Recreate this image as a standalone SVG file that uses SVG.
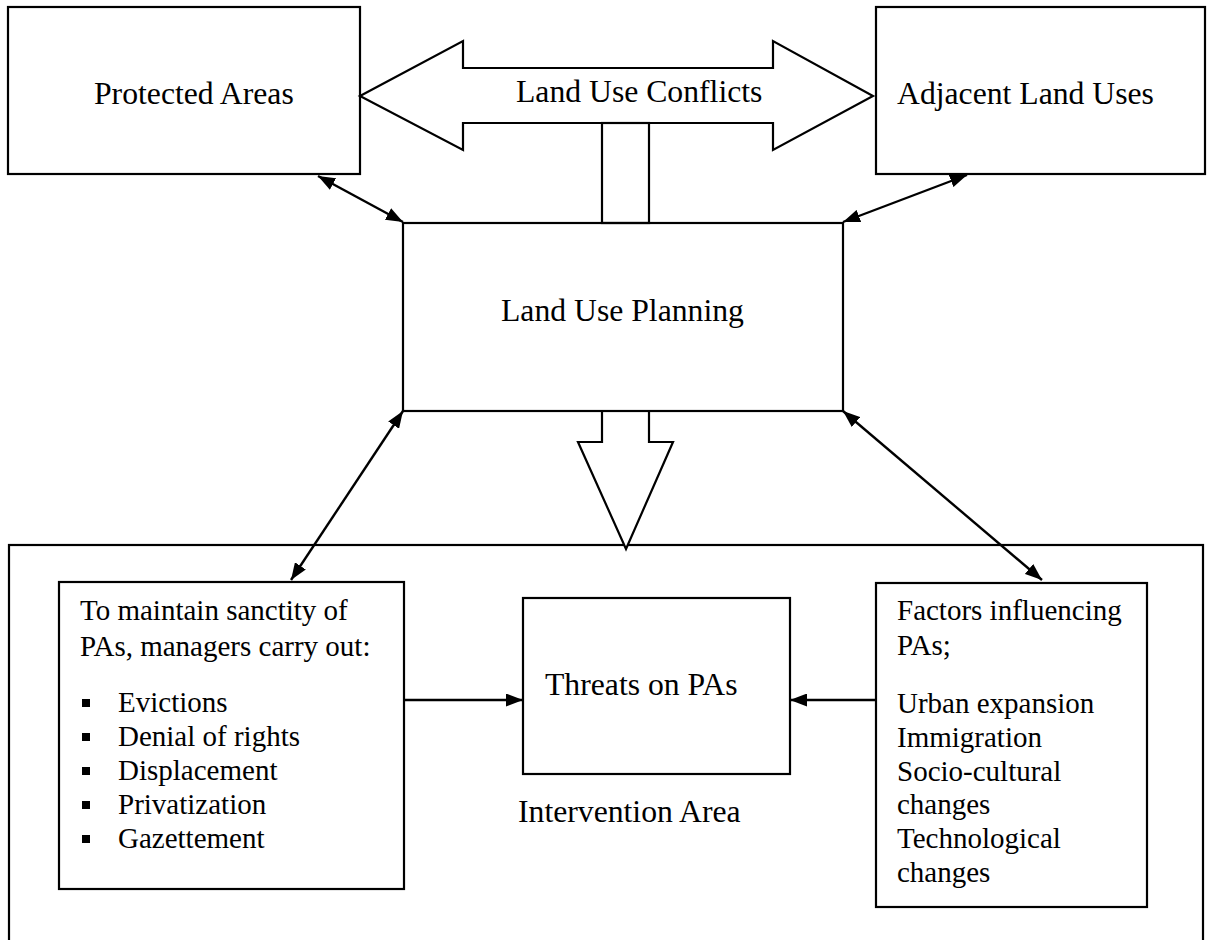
<svg xmlns="http://www.w3.org/2000/svg" width="1210" height="940" viewBox="0 0 1210 940">
<style>
.box{fill:#fff;stroke:#000;stroke-width:2.2}
.big{fill:#fff;stroke:#000;stroke-width:2.2;stroke-linejoin:miter}
.t{font-family:"Liberation Serif","Times New Roman",serif;font-size:31.7px;fill:#000}
.s{font-family:"Liberation Serif","Times New Roman",serif;font-size:29px;fill:#000}
.con{stroke:#000;stroke-width:2.4;fill:none}
</style>
<defs>
<marker id="ah" viewBox="0 0 17 13" refX="17" refY="6.5" markerWidth="17" markerHeight="13" markerUnits="userSpaceOnUse" orient="auto-start-reverse">
<path d="M0,0 L17,6.5 L0,13 z" fill="#000"/>
</marker>
</defs>
<rect width="1210" height="940" fill="#fff"/>
<g id="intervention-area">
<rect class="box" x="9" y="545" width="1194" height="400"/>
<text class="t" x="518" y="822">Intervention Area</text>
</g>
<g id="protected-areas">
<rect class="box" x="8" y="7" width="352" height="167"/>
<text class="t" x="94" y="104">Protected Areas</text>
</g>
<g id="adjacent-land-uses">
<rect class="box" x="876" y="7" width="329" height="167"/>
<text class="t" x="897" y="104">Adjacent Land Uses</text>
</g>
<g id="land-use-conflicts">
<polygon class="big" points="360,96 463,41 463,68 773,68 773,41 873,96 773,150 773,123 463,123 463,150"/>
<rect class="big" x="602" y="123" width="47" height="100"/>
<text class="t" x="516" y="102">Land Use Conflicts</text>
</g>
<g id="down-arrow">
<path class="big" d="M602,411 L602,442 L578,442 L626,549 L673,442 L649,442 L649,411"/>
</g>
<g id="land-use-planning">
<rect class="box" x="403" y="223" width="440" height="188" fill-opacity="0"/>
<text class="t" x="501" y="321">Land Use Planning</text>
</g>
<g id="managers">
<rect class="box" x="59" y="582" width="345" height="307"/>
<text class="s" x="80" y="620">To maintain sanctity of</text>
<text class="s" x="80" y="656">PAs, managers carry out:</text>
<rect x="82" y="699" width="8" height="8"/>
<rect x="82" y="733" width="8" height="8"/>
<rect x="82" y="767" width="8" height="8"/>
<rect x="82" y="801" width="8" height="8"/>
<rect x="82" y="835" width="8" height="8"/>
<text class="s" x="118" y="712">Evictions</text>
<text class="s" x="118" y="746">Denial of rights</text>
<text class="s" x="118" y="780">Displacement</text>
<text class="s" x="118" y="814">Privatization</text>
<text class="s" x="118" y="848">Gazettement</text>
</g>
<g id="threats">
<rect class="box" x="523" y="598" width="267" height="176"/>
<text class="t" x="545" y="695">Threats on PAs</text>
</g>
<g id="factors">
<rect class="box" x="876" y="583" width="271" height="324"/>
<text class="s" x="897" y="620">Factors influencing</text>
<text class="s" x="897" y="655">PAs;</text>
<text class="s" x="897" y="713">Urban expansion</text>
<text class="s" x="897" y="747">Immigration</text>
<text class="s" x="897" y="781">Socio-cultural</text>
<text class="s" x="897" y="814">changes</text>
<text class="s" x="897" y="848">Technological</text>
<text class="s" x="897" y="882">changes</text>
</g>
<g id="connectors">
<line class="con" x1="318" y1="176" x2="403" y2="222" marker-start="url(#ah)" marker-end="url(#ah)"/>
<line class="con" x1="967" y1="175" x2="843" y2="222" marker-start="url(#ah)" marker-end="url(#ah)"/>
<line class="con" x1="403" y1="411" x2="291" y2="580" marker-start="url(#ah)" marker-end="url(#ah)"/>
<line class="con" x1="843" y1="411" x2="1042" y2="580" marker-start="url(#ah)" marker-end="url(#ah)"/>
<line class="con" x1="404" y1="700" x2="523" y2="700" marker-end="url(#ah)"/>
<line class="con" x1="876" y1="700" x2="790" y2="700" marker-end="url(#ah)"/>
</g>
</svg>
